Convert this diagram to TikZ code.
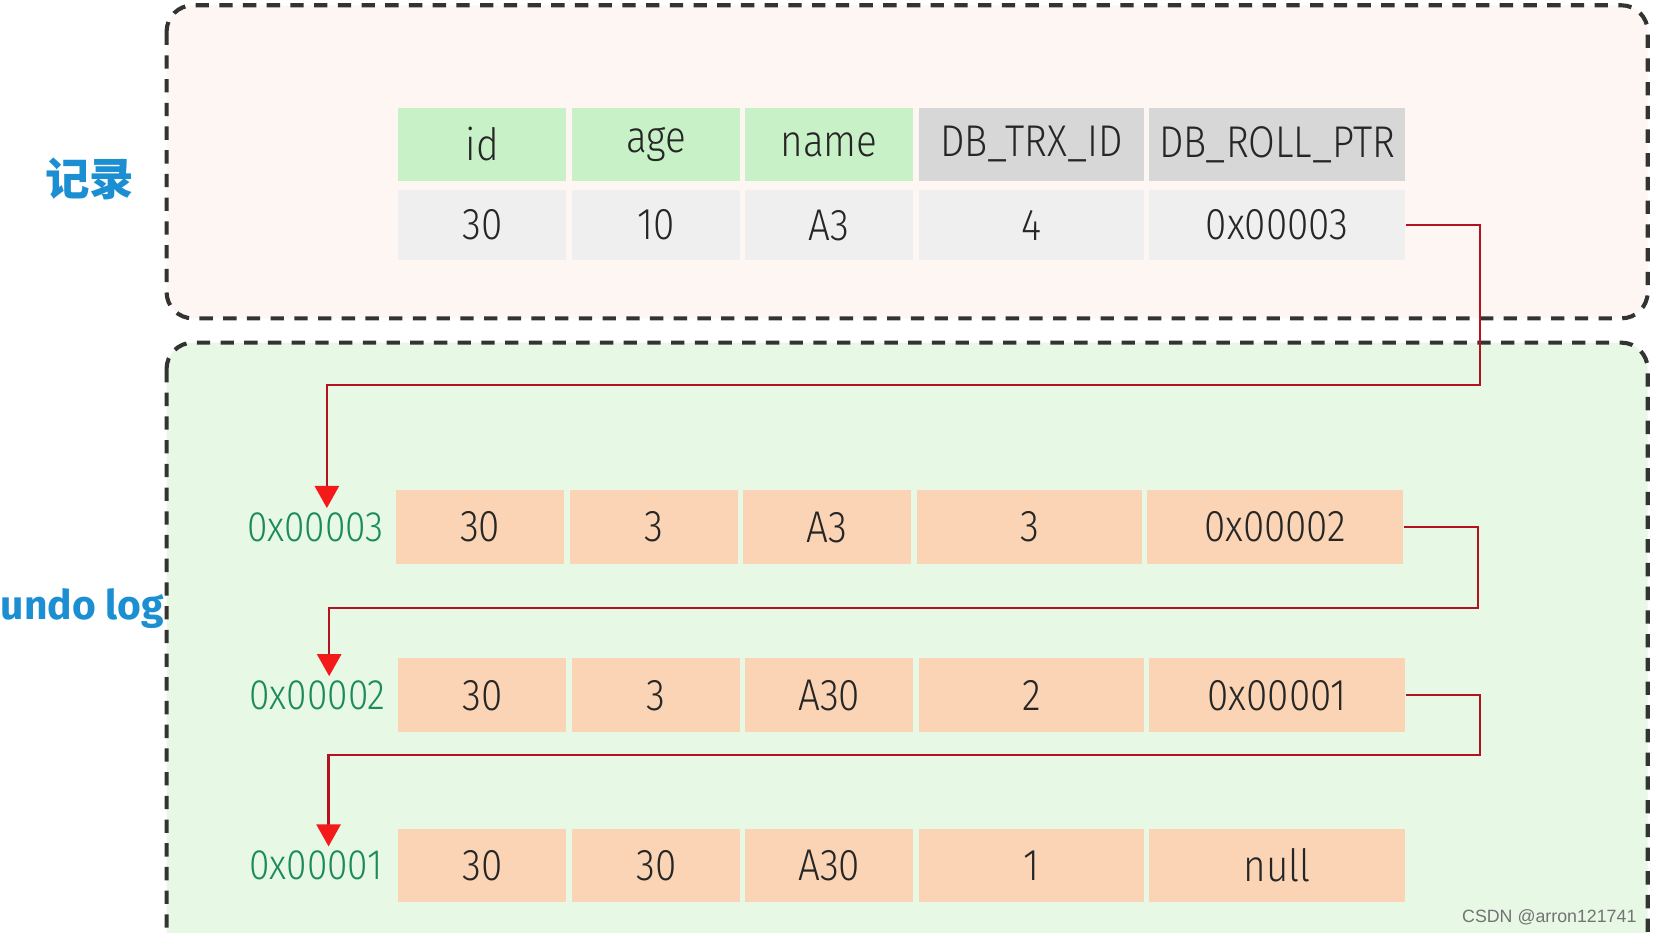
\documentclass[tikz,border=0pt]{standalone}
\usepackage{fontspec}
\setmainfont{Fira Sans}[UprightFont=* Light, FakeStretch=0.87]
\newfontfamily\labelfont{Fira Sans}
\newfontfamily\cjk{Noto Sans CJK SC}
\newfontfamily\wmfont{Liberation Sans}
\usetikzlibrary{arrows.meta}

\definecolor{recbg}{HTML}{FDF6F2}
\definecolor{logbg}{HTML}{E7F8E5}
\definecolor{hdrgreen}{HTML}{C8F1C8}
\definecolor{hdrgray}{HTML}{D7D7D7}
\definecolor{valgray}{HTML}{EFEFEF}
\definecolor{peach}{HTML}{FAD4B4}
\definecolor{addrgreen}{HTML}{1B8B5C}
\definecolor{titleblue}{HTML}{1B8FD2}
\definecolor{ptrred}{HTML}{B3121E}
\definecolor{tipred}{HTML}{F51A1A}

\tikzset{
  cell/.style={minimum height=7mm, minimum width=15.9mm, inner sep=0pt,
    text=black!85, font=\fontsize{12}{14}\selectfont},
  wideD/.style={minimum width=21.3mm},
  wideE/.style={minimum width=24.3mm},
  hdr/.style={cell, fill=hdrgreen},
  hdrsys/.style={cell, fill=hdrgray},
  val/.style={cell, fill=valgray, minimum height=6.7mm},
  ver/.style={cell, fill=peach},
  addr/.style={anchor=east, inner sep=1pt, text=addrgreen,
    font=\fontsize{11.5}{13}\selectfont},
  title/.style={text=titleblue, font=\labelfont\bfseries\fontsize{11}{13}\selectfont},
  region/.style={draw=black!80, line width=1.1pt,
    dash pattern=on 3.6pt off 2.8pt, rounded corners=2.5mm},
  ptr/.style={draw=ptrred, line width=0.6pt,
    -{Triangle[width=2.3mm,length=2.1mm,color=tipred]}},
}

\begin{document}
\begin{tikzpicture}[x=0.1mm, y=-0.1mm]
    \useasboundingbox (0,0) rectangle (1568,885);
    \clip (0,0) rectangle (1568,885);
    % the two areas
    \draw[region, fill=recbg] (158,5) rectangle (1563,302);
    \draw[region, fill=logbg] (158,325) rectangle (1563,960);
    \node[title, font=\cjk\bfseries\fontsize{12}{14}\selectfont] (rec) at (85,170) {记录};
    \node[title] (log) at (78,577) {undo log};

    % current record
    \node[hdr] (h1) at (457.5,137) {id};
    \node[hdr] (h2) at (622.5,137) {age};
    \node[hdr] (h3) at (786.5,137) {name};
    \node[hdrsys, wideD] (h4) at (978.5,137) {DB\_TRX\_ID};
    \node[hdrsys, wideE] (h5) at (1211.5,137) {DB\_ROLL\_PTR};
    \node[val] (v1) at (457.5,213.5) {30};
    \node[val] (v2) at (622.5,213.5) {10};
    \node[val] (v3) at (786.5,213.5) {A3};
    \node[val, wideD] (v4) at (978.5,213.5) {4};
    \node[val, wideE] (v5) at (1211.5,213.5) {0x00003};

    % undo log versions
    \node[addr] (l3) at (368,500) {0x00003};
    \node[ver] (p1) at (455.5,500) {30};
    \node[ver] (p2) at (620.5,500) {3};
    \node[ver] (p3) at (784.5,500) {A3};
    \node[ver, wideD] (p4) at (976.5,500) {3};
    \node[ver, wideE] (p5) at (1209.5,500) {0x00002};

    \node[addr] (l2) at (370,659.5) {0x00002};
    \node[ver] (q1) at (457.5,659.5) {30};
    \node[ver] (q2) at (622.5,659.5) {3};
    \node[ver] (q3) at (786.5,659.5) {A30};
    \node[ver, wideD] (q4) at (978.5,659.5) {2};
    \node[ver, wideE] (q5) at (1211.5,659.5) {0x00001};

    \node[addr] (l1) at (367,821) {0x00001};
    \node[ver] (s1) at (457.5,821) {30};
    \node[ver] (s2) at (622.5,821) {30};
    \node[ver] (s3) at (786.5,821) {A30};
    \node[ver, wideD] (s4) at (978.5,821) {1};
    \node[ver, wideE] (s5) at (1211.5,821) {null};

    % roll pointers
    \coordinate (b1) at (1404,365);
    \coordinate (b2) at (1402,577);
    \coordinate (b3) at (1404,716);
    \draw[ptr] (v5.east) -| (b1) -| ([xshift=1.1mm]l3.north);
    \draw[ptr] (p5.east) -| (b2) -| ([xshift=1.1mm]l2.north);
    \draw[ptr] (q5.east) -| (b3) -| ([xshift=1.2mm]l1.north);

    \node[anchor=east, inner sep=0pt, text=black!55,
      font=\wmfont\fontsize{4.8}{6}\selectfont] (wm) at (1553,870) {CSDN @arron121741};
\end{tikzpicture}
\end{document}
